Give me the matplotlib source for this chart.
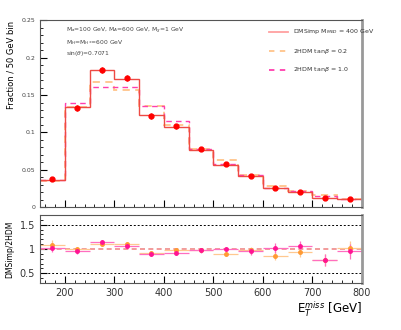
import numpy as np
import matplotlib.pyplot as plt
from matplotlib.ticker import MultipleLocator

# binning in MET
edges = np.arange(150, 801, 50)
centers = 0.5 * (edges[:-1] + edges[1:])

# normalised distributions
dmsimp = [0.0366, 0.134, 0.1835, 0.171, 0.123, 0.107, 0.077, 0.0567, 0.0415, 0.025, 0.0196, 0.0124, 0.0106]
dmsimp_pts = [0.037, 0.133, 0.184, 0.173, 0.122, 0.108, 0.078, 0.057, 0.042, 0.026, 0.020, 0.0125, 0.011]
dmsimp_err = [0.002, 0.004, 0.004, 0.004, 0.0035, 0.0035, 0.003, 0.0025, 0.002, 0.0017, 0.0015, 0.0012, 0.0012]
thdm_02 = [0.035, 0.1344, 0.168, 0.157, 0.136, 0.110, 0.078, 0.0625, 0.043, 0.0285, 0.022, 0.016, 0.0105]
thdm_10 = [0.036, 0.139, 0.161, 0.161, 0.135, 0.1157, 0.078, 0.058, 0.043, 0.026, 0.022, 0.015, 0.0105]

# ratios DMSimp / 2HDM
ratio_02 = [1.08, 0.99, 1.11, 1.10, 0.91, 0.97, 0.98, 0.905, 0.97, 0.865, 0.93, 0.78, 1.02]
ratio_02_err = [0.10, 0.05, 0.05, 0.05, 0.05, 0.05, 0.05, 0.05, 0.07, 0.10, 0.10, 0.12, 0.15]
ratio_10 = [1.03, 0.95, 1.14, 1.07, 0.905, 0.92, 0.97, 1.0, 0.95, 1.02, 1.07, 0.78, 0.95]
ratio_10_err = [0.10, 0.05, 0.05, 0.05, 0.05, 0.05, 0.05, 0.05, 0.07, 0.10, 0.10, 0.12, 0.15]

c_dm = '#ee4a44'
c_02 = '#ffc48a'
c_10 = '#ff3fae'

fig = plt.figure(figsize=(4.02, 3.30), dpi=100)
ax = fig.add_axes([0.0995, 0.3727, 0.801, 0.5653])
axr = fig.add_axes([0.0995, 0.1424, 0.801, 0.2061])

def step(a, vals, **kw):
    return a.stairs(vals, edges, baseline=None, **kw)

step(ax, thdm_02, color=c_02, lw=1.3, ls=(0, (4, 3)))
step(ax, thdm_10, color=c_10, lw=1.0, ls=(0, (4, 3)))
step(ax, dmsimp, color=c_dm, lw=1.0)
ax.errorbar(centers, dmsimp_pts, yerr=dmsimp_err, fmt='o', color='red', ms=3.5, elinewidth=0.8, capsize=0)

ax.set_xlim(150, 800)
ax.set_ylim(0, 0.25)
ax.yaxis.set_minor_locator(MultipleLocator(0.01))
ax.xaxis.set_major_locator(MultipleLocator(100))
ax.xaxis.set_minor_locator(MultipleLocator(20))
ax.set_yticks([0, 0.05, 0.1, 0.15, 0.2, 0.25], ['0', '0.05', '0.1', '0.15', '0.2', '0.25'])
ax.tick_params(axis='both', which='both', direction='in', labelsize=4.5, labelcolor='#444444')
ax.tick_params(which='major', length=5, width=0.8)
ax.tick_params(which='minor', length=2.5, width=0.6)
ax.tick_params(axis='x', labelbottom=False)
ax.set_ylabel('Fraction / 50 GeV bin', fontsize=6, loc='top')
for s in ['top', 'left', 'bottom']:
    ax.spines[s].set_color('#555555')
ax.spines['right'].set_color('#999999')
ax.spines['right'].set_linewidth(2)

ax.text(0.08, 0.935, r'M$_{a}$=100 GeV, M$_{A}$=600 GeV, M$_{\chi}$=1 GeV', transform=ax.transAxes, fontsize=4.3, color='#444444')
ax.text(0.08, 0.875, r'M$_{H}$=M$_{H^{\pm}}$=600 GeV', transform=ax.transAxes, fontsize=4.3, color='#444444')
ax.text(0.08, 0.815, r'sin($\theta$)=0.7071', transform=ax.transAxes, fontsize=4.3, color='#444444')

leg_x = [0.71, 0.77]
for yy, col, ls, lab in [(0.94, '#ffa0a0', '-', r'DMSimp M$_{MED}$ = 400 GeV'),
                          (0.835, c_02, (0, (3, 3)), r'2HDM tan$\beta$ = 0.2'),
                          (0.735, c_10, (0, (3, 3)), r'2HDM tan$\beta$ = 1.0')]:
    ax.plot(leg_x, [yy, yy], transform=ax.transAxes, color=col, ls=ls, lw=1.3)
    ax.text(0.785, yy, lab, transform=ax.transAxes, fontsize=4.5, va='center', color='#333333')

# ratio panel
axr.axhline(1.5, color='black', ls=(0, (2, 2)), lw=0.7)
axr.axhline(0.5, color='black', ls=(0, (2, 2)), lw=0.7)
axr.axhline(1.0, color='#f08a8a', ls=(0, (3, 2)), lw=1.2)
axr.errorbar(centers, ratio_02, xerr=25, yerr=ratio_02_err, fmt='o', color='#ff9a33', ecolor='#ffc890',
             ms=2.5, elinewidth=0.9, capsize=0)
axr.errorbar(centers, ratio_10, xerr=25, yerr=ratio_10_err, fmt='o', color='#ff1493', ecolor='#ff6ec0',
             ms=2.5, elinewidth=0.9, capsize=0)
axr.set_xlim(150, 800)
axr.set_ylim(0.3, 1.7)
axr.set_yticks([0.5, 1, 1.5], ['0.5', '1', '1.5'])
axr.yaxis.set_minor_locator(MultipleLocator(0.1))
axr.xaxis.set_major_locator(MultipleLocator(100))
axr.xaxis.set_minor_locator(MultipleLocator(20))
axr.tick_params(axis='both', which='both', direction='in', labelsize=7, labelcolor='#333333')
axr.tick_params(which='major', length=5, width=0.8)
axr.tick_params(which='minor', length=2.5, width=0.6)
axr.set_ylabel('DMSimp/2HDM', fontsize=5.5)
axr.set_xlabel(r'E$_{T}^{miss}$ [GeV]', fontsize=8.5, loc='right', labelpad=1)
for s in ['top', 'left', 'bottom']:
    axr.spines[s].set_color('#555555')
axr.spines['right'].set_color('#999999')
axr.spines['right'].set_linewidth(2)

fig.savefig('out.png', dpi=100)
